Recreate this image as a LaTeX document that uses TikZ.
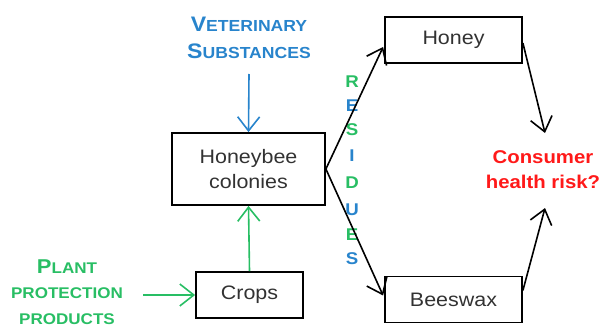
\documentclass[tikz,border=0pt]{standalone}
\usepackage{fontspec}
\setmainfont{Liberation Sans}[FakeStretch=1.1]
\usetikzlibrary{arrows.meta,calc}
\definecolor{vblue}{RGB}{40,132,204}
\definecolor{pgreen}{RGB}{40,190,100}
\definecolor{rred}{RGB}{255,25,25}
\definecolor{boxtext}{RGB}{50,50,50}
\tikzset{
  box/.style={draw=black, line width=1.8pt, minimum height=46pt, text=boxtext, font=\fontsize{19.5}{25}\selectfont, align=center, inner sep=0pt},
  conn/.style={line width=1.6pt, -{Straight Barb[length=14pt,width=22pt,line width=1.6pt]}},
  resl/.style={font=\bfseries\fontsize{17}{17}\selectfont, inner sep=0pt}
}
\begin{document}
\begin{tikzpicture}[x=1pt,y=-1pt]
\useasboundingbox (0,0) rectangle (611,329);
\node[box, minimum width=137pt] (honey) at (453.5,40) {Honey};
\node[box, minimum width=137pt] (beeswax) at (453.5,299.5) {Beeswax};
\node[box, minimum width=153pt, minimum height=72pt] (colonies) at (248.5,169) {Honeybee\\colonies};
\node[box, minimum width=107pt] (crops) at (249.5,295) {Crops};
\node[text=vblue, font=\bfseries\fontsize{16}{27}\selectfont, align=center, inner sep=0pt] (vet) at (249,38)
  {{\fontsize{21}{27}\selectfont V}ETERINARY\\
   {\fontsize{21}{27}\selectfont S}UBSTANCES};
\coordinate (vetend) at (249,74);
\node[text=pgreen, font=\bfseries\fontsize{15.5}{25.5}\selectfont, align=center, inner sep=0pt] (plant) at (67,292)
  {{\fontsize{20}{25.5}\selectfont P}LANT\\
   PROTECTION\\
   PRODUCTS};
\coordinate (plantend) at (143,295);
\node[text=rred, font=\bfseries\fontsize{18.5}{25}\selectfont, align=center, inner sep=0pt] (risk) at (543,170) {Consumer\\health risk?};
\coordinate (ctop) at (545,133);
\coordinate (cbot) at (545,208);
% residues
\node[resl, text=pgreen] (r1) at (352,82) {R};
\node[resl, text=vblue] (r2) at (352,106) {E};
\node[resl, text=pgreen] (r3) at (352,130) {S};
\node[resl, text=vblue] (r4) at (352,156) {I};
\node[resl, text=pgreen] (r5) at (352,183) {D};
\node[resl, text=vblue] (r6) at (352,210) {U};
\node[resl, text=pgreen] (r7) at (352,235) {E};
\node[resl, text=vblue] (r8) at (352,259) {S};
% connectors
\draw[conn, vblue] (vetend) -- (colonies.north);
\draw[conn, pgreen] (crops.north) -- (colonies.south);
\draw[conn, pgreen] (plantend) -- (crops.west);
\draw[conn] (colonies.east) -- ($(honey.west)+(-1,7)$);
\draw[conn] (colonies.east) -- ($(beeswax.west)+(-1,-4)$);
\draw[conn] ($(honey.east)+(0,3)$) -- (ctop);
\draw[conn] ($(beeswax.east)+(0,-9)$) -- (cbot);
\end{tikzpicture}
\end{document}
